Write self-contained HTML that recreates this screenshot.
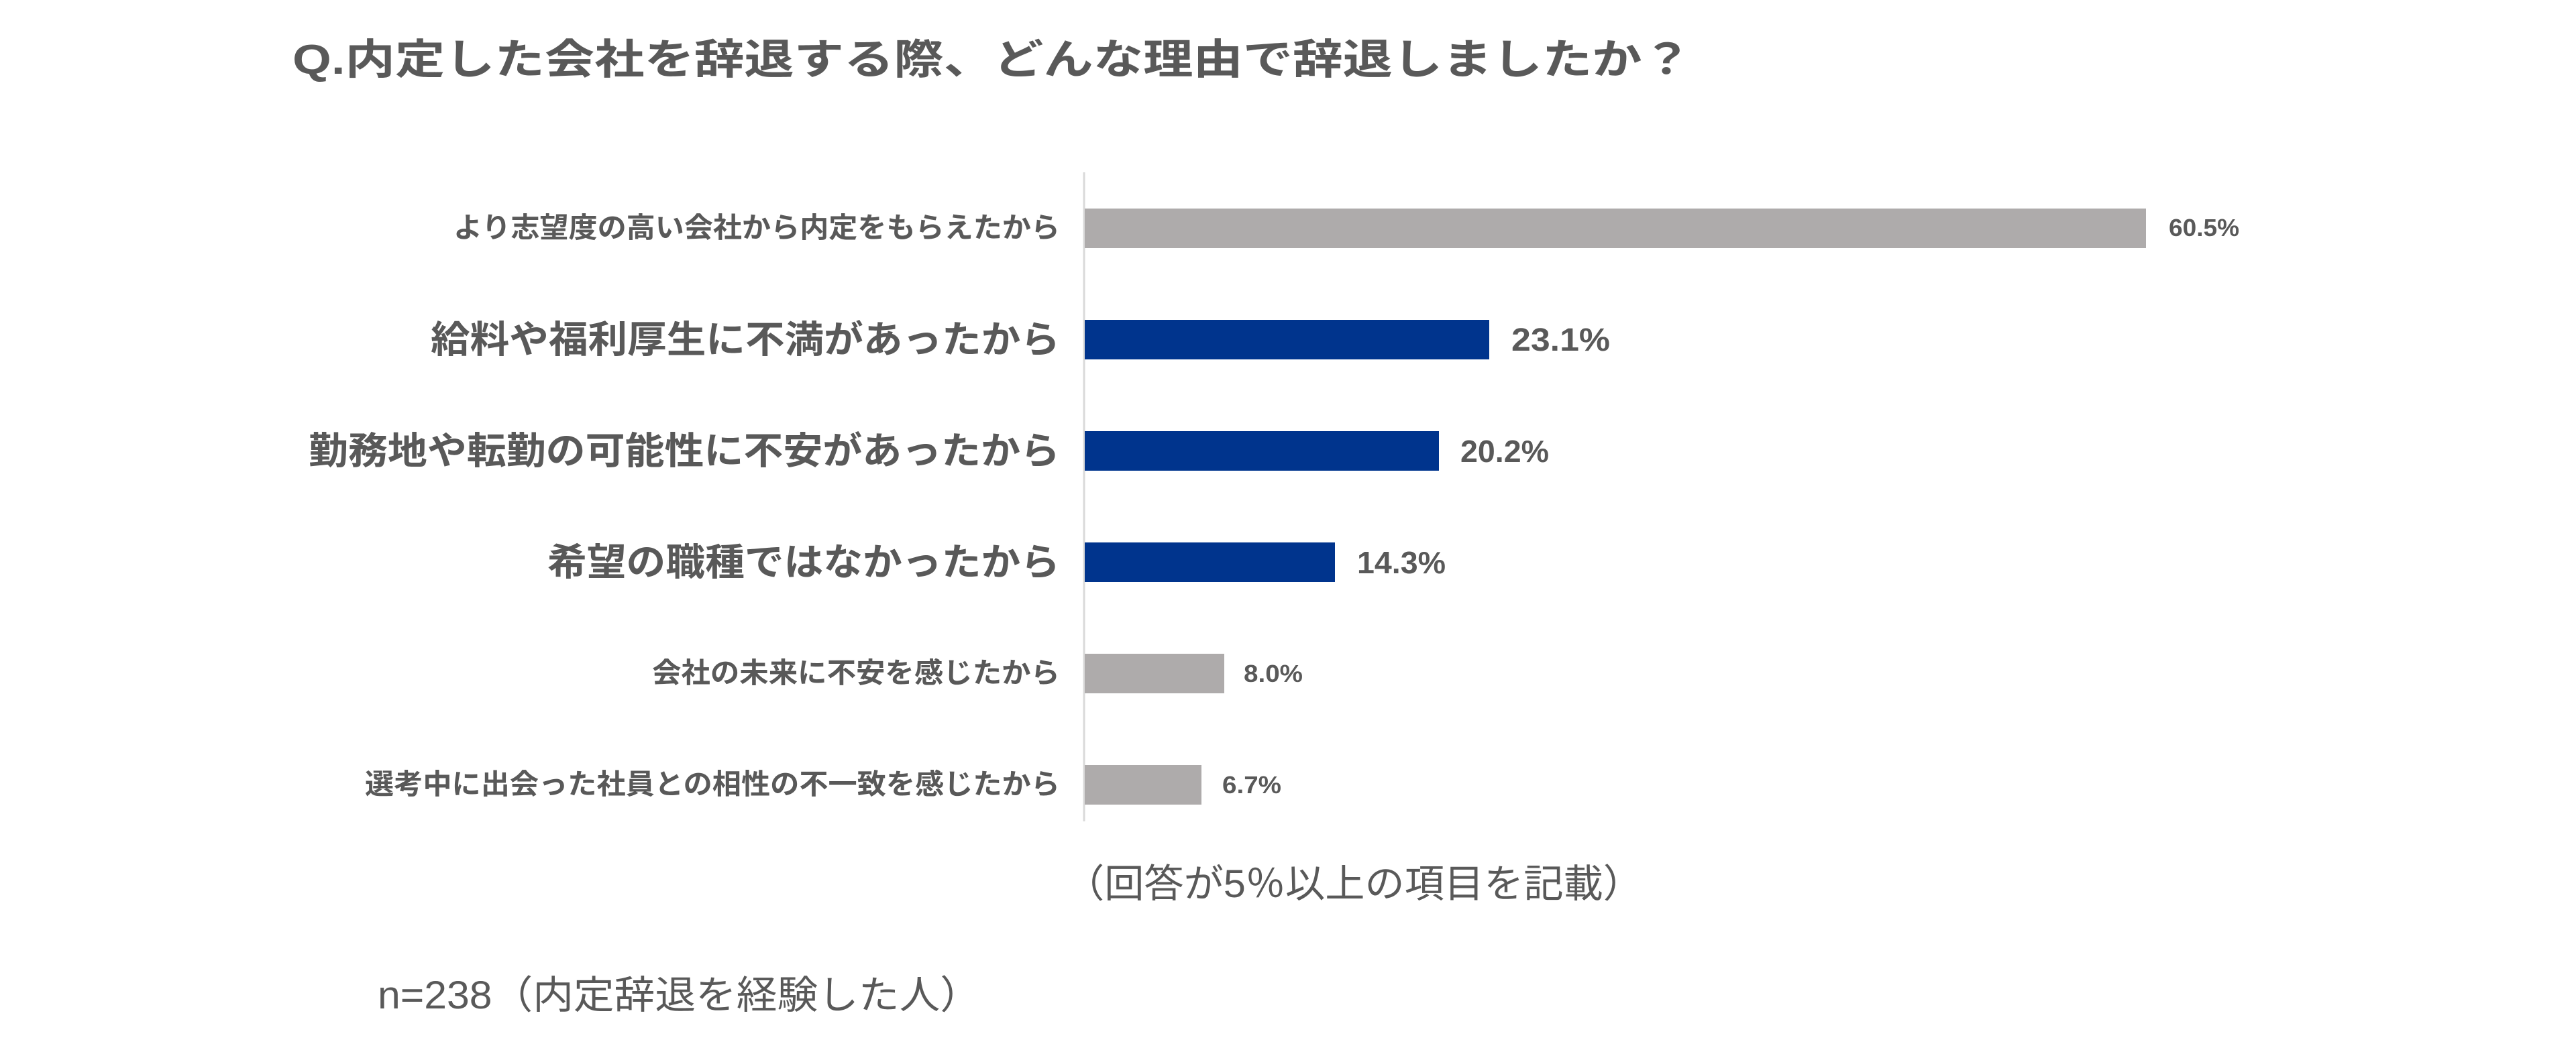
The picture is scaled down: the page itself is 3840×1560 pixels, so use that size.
<!DOCTYPE html>
<html><head><meta charset="utf-8"><style>html,body{margin:0;padding:0;background:#fff;}svg{display:block}</style></head>
<body>
<svg width="3840" height="1560" viewBox="0 0 3840 1560" xmlns="http://www.w3.org/2000/svg" font-family="'Liberation Sans','Noto Sans CJK JP',sans-serif" fill="#595959">
<rect width="3840" height="1560" fill="#fff"/>
<text x="436" y="110" font-size="62" font-weight="bold" textLength="2086" lengthAdjust="spacingAndGlyphs">Q.内定した会社を辞退する際、どんな理由で辞退しましたか？</text>
<line x1="1616" y1="257" x2="1616" y2="1225" stroke="#d9d9d9" stroke-width="3"/>
<rect x="1617" y="311" width="1582" height="59" fill="#aeabab"/>
<rect x="1617" y="477" width="603" height="59" fill="#00348d"/>
<rect x="1617" y="643" width="528" height="59" fill="#00348d"/>
<rect x="1617" y="809" width="373" height="59" fill="#00348d"/>
<rect x="1617" y="975" width="208" height="59" fill="#aeabab"/>
<rect x="1617" y="1141" width="174" height="59" fill="#aeabab"/>
<g font-weight="bold">
<text x="676" y="354" font-size="42" textLength="904" lengthAdjust="spacingAndGlyphs">より志望度の高い会社から内定をもらえたから</text>
<text x="642" y="526" font-size="56" textLength="938" lengthAdjust="spacingAndGlyphs">給料や福利厚生に不満があったから</text>
<text x="460" y="692" font-size="56" textLength="1120" lengthAdjust="spacingAndGlyphs">勤務地や転勤の可能性に不安があったから</text>
<text x="816" y="858" font-size="56" textLength="764" lengthAdjust="spacingAndGlyphs">希望の職種ではなかったから</text>
<text x="972" y="1018" font-size="42" textLength="608" lengthAdjust="spacingAndGlyphs">会社の未来に不安を感じたから</text>
<text x="544" y="1184" font-size="42" textLength="1036" lengthAdjust="spacingAndGlyphs">選考中に出会った社員との相性の不一致を感じたから</text>
<text x="3233" y="352" font-size="36" textLength="105" lengthAdjust="spacingAndGlyphs">60.5%</text>
<text x="2253" y="523" font-size="48" textLength="147" lengthAdjust="spacingAndGlyphs">23.1%</text>
<text x="2177" y="689" font-size="46" textLength="132" lengthAdjust="spacingAndGlyphs">20.2%</text>
<text x="2023" y="855" font-size="46" textLength="132" lengthAdjust="spacingAndGlyphs">14.3%</text>
<text x="1854" y="1017" font-size="36" textLength="88" lengthAdjust="spacingAndGlyphs">8.0%</text>
<text x="1822" y="1183" font-size="36" textLength="88" lengthAdjust="spacingAndGlyphs">6.7%</text>
</g>
<text x="1587" y="1338" font-size="58" textLength="862" lengthAdjust="spacingAndGlyphs">（回答が5％以上の項目を記載）</text>
<text x="563" y="1504" font-size="58" textLength="899" lengthAdjust="spacingAndGlyphs">n=238（内定辞退を経験した人）</text>
</svg>
</body></html>
